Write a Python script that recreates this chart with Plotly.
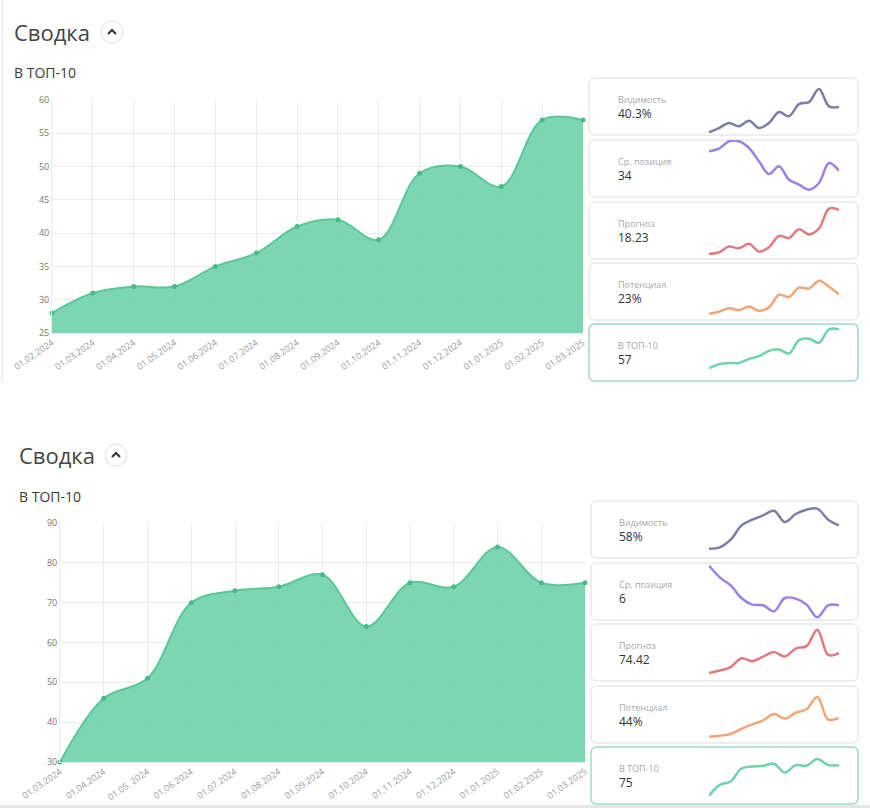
import plotly.graph_objects as go

W, H = 870, 808

# ---------------- data ----------------
top_dates = ["01.02.2024", "01.03.2024", "01.04.2024", "01.05.2024", "01.06.2024",
             "01.07.2024", "01.08.2024", "01.09.2024", "01.10.2024", "01.11.2024",
             "01.12.2024", "01.01.2025", "01.02.2025", "01.03.2025"]
top_top10 = [28, 31, 32, 32, 35, 37, 41, 42, 39, 49, 50, 47, 57, 57]
top_visibility = [23.1, 25.0, 27.3, 25.8, 28.3, 25.0, 27.3, 32.2, 30.3, 35.8, 36.7, 42.6, 34.8, 34.5]
top_position = [43.5, 44.3, 46.5, 46.5, 44.5, 40.5, 36.7, 39.0, 35.0, 33.5, 32.0, 34.0, 40.0, 37.7]
top_forecast = [9.05, 9.4, 10.59, 10.24, 11.15, 9.54, 10.45, 12.76, 12.34, 14.16, 13.04, 14.3, 18.36, 18.15]
top_potential = [12.4, 13.1, 14.3, 13.6, 14.9, 13.4, 14.6, 19.0, 18.2, 21.5, 21.2, 23.9, 21.8, 19.1]
top_y_ticks = [25, 30, 35, 40, 45, 50, 55, 60]
top_card_values = ["40.3%", "34", "18.23", "23%", "57"]

bottom_dates = ["01.03.2024", "01.04.2024", "01.05. 2024", "01.06.2024", "01.07.2024",
                "01.08.2024", "01.09.2024", "01.10.2024", "01.11.2024", "01.12.2024",
                "01.01.2025", "01.02.2025", "01.03.2025"]
bottom_top10 = [30, 46, 51, 70, 73, 74, 77, 64, 75, 74, 84, 75, 75]
bottom_visibility = [28.4, 29.6, 36.5, 49.4, 54.5, 58.4, 62.6, 52.4, 59.6, 63.5, 64.4, 54.5, 49.4]
bottom_position = [12.1, 10.35, 9.15, 7.25, 6.25, 6.15, 5.25, 7.25, 7.15, 6.25, 4.35, 6.15, 6.15]
bottom_forecast = [28.4, 34.0, 42.0, 62.0, 55.6, 66.0, 76.4, 66.0, 84.4, 90.0, 127.6, 70.0, 74.0]
bottom_potential = [19.9, 21.25, 23.5, 30.25, 36.1, 41.5, 49.6, 43.75, 51.4, 55.9, 72.1, 42.4, 44.65]
bottom_y_ticks = [30, 40, 50, 60, 70, 80, 90]
bottom_card_values = ["58%", "6", "74.42", "44%", "75"]

card_labels = ["Видимость", "Ср. позиция", "Прогноз", "Потенциал", "В ТОП-10"]
title_text = "Сводка"
subtitle_text = "В ТОП-10"

# ---------------- styles ----------------
spark_colors = ["#7b7fa6", "#9d80e6", "#e47a80", "#f0a678", "#6dd3ab"]
fill_color = "rgba(112,210,170,0.92)"
line_color = "#5cc79b"
marker_color = "#47bb8b"
grid_color = "#ebebeb"
FONT = "Open Sans"


def px(x):
    return x / W


def py(y):
    return 1 - y / H


panels = [
    dict(dates=top_dates, values=top_top10, yticks=top_y_ticks, yr=[25, 60],
         plot=(52, 100, 583, 333), title=(12, 32), sub=(12, 73), chevron=(112, 32),
         cards_x=(589, 858), card_tops=[78, 140, 202, 263, 324], card_h=57,
         spark_x=(709, 839), text_x=617,
         series=[top_visibility, top_position, top_forecast, top_potential, top_top10],
         card_values=top_card_values,
         gaps=[(11, 2.7), (1.3, 7.3), (6.7, 5), (17.7, 6.3), (5.3, 12.7)]),
    dict(dates=bottom_dates, values=bottom_top10, yticks=bottom_y_ticks, yr=[30, 90],
         plot=(60, 523, 585, 762), title=(17, 455), sub=(17, 496), chevron=(116, 455),
         cards_x=(591, 858), card_tops=[501, 563, 624, 686, 747], card_h=57,
         spark_x=(709, 839), text_x=618,
         series=[bottom_visibility, bottom_position, bottom_forecast, bottom_potential, bottom_top10],
         card_values=bottom_card_values,
         gaps=[(7.7, 9.3), (2.7, 2.7), (5.7, 8), (11, 6.3), (12, 8.3)]),
]

fig = go.Figure()
layout = dict(width=W, height=H, margin=dict(l=0, r=0, t=0, b=0, autoexpand=False),
              paper_bgcolor="white", plot_bgcolor="white", showlegend=False,
              font=dict(family=FONT))
shapes = []
annotations = []
ax_i = [0]


def new_axes():
    ax_i[0] += 1
    i = ax_i[0]
    suffix = "" if i == 1 else str(i)
    return "x" + suffix, "y" + suffix, "xaxis" + suffix, "yaxis" + suffix


def rounded_rect(x0, y0, x1, y1, r):
    def P(x, y):
        return f"{px(x):.5f},{py(y):.5f}"
    return (f"M {P(x0 + r, y0)} L {P(x1 - r, y0)} Q {P(x1, y0)} {P(x1, y0 + r)} "
            f"L {P(x1, y1 - r)} Q {P(x1, y1)} {P(x1 - r, y1)} "
            f"L {P(x0 + r, y1)} Q {P(x0, y1)} {P(x0, y1 - r)} "
            f"L {P(x0, y0 + r)} Q {P(x0, y0)} {P(x0 + r, y0)} Z")


for p in panels:
    # titles
    annotations.append(dict(text=title_text, x=px(p["title"][0]), y=py(p["title"][1]),
                            xref="paper", yref="paper", xanchor="left", yanchor="middle",
                            showarrow=False, font=dict(size=22, color="#454545", family=FONT)))
    annotations.append(dict(text=subtitle_text, x=px(p["sub"][0]), y=py(p["sub"][1]),
                            xref="paper", yref="paper", xanchor="left", yanchor="middle",
                            showarrow=False, font=dict(size=14, color="#3a3a3a", family=FONT)))
    cx, cy = p["chevron"]
    shapes.append(dict(type="circle", xref="paper", yref="paper",
                       x0=px(cx - 11), x1=px(cx + 11), y0=py(cy + 11), y1=py(cy - 11),
                       line=dict(color="#dedede", width=1), fillcolor="white"))
    shapes.append(dict(type="path", xref="paper", yref="paper",
                       path=f"M {px(cx-4):.5f},{py(cy+2):.5f} L {px(cx):.5f},{py(cy-2):.5f} L {px(cx+4):.5f},{py(cy+2):.5f}",
                       line=dict(color="#333333", width=2)))

    # main chart
    xa, ya, xk, yk = new_axes()
    x0, y0, x1, y1 = p["plot"]
    n = len(p["dates"])
    fig.add_trace(go.Scatter(x=p["dates"], y=p["values"], mode="lines",
                             line=dict(shape="spline", smoothing=1.0, color=line_color, width=2),
                             fill="tozeroy", fillcolor=fill_color, xaxis=xa, yaxis=ya,
                             hoverinfo="skip"))
    fig.add_trace(go.Scatter(x=p["dates"], y=p["values"], mode="markers",
                             marker=dict(size=5, color=marker_color), cliponaxis=False,
                             xaxis=xa, yaxis=ya))
    layout[xk] = dict(domain=[px(x0), px(x1)], anchor=ya, type="category", automargin=False,
                      range=[0, n - 1], tickmode="array", tickvals=p["dates"], ticktext=p["dates"],
                      tickangle=-35, tickfont=dict(size=9, color="#9a9a9a", family=FONT),
                      showgrid=True, gridcolor=grid_color, zeroline=False,
                      showline=True, linecolor=grid_color, ticks="", fixedrange=True)
    layout[yk] = dict(domain=[py(y1), py(y0)], anchor=xa, range=p["yr"], automargin=False,
                      tickmode="array", tickvals=p["yticks"],
                      tickfont=dict(size=9, color="#777777", family=FONT),
                      showgrid=True, gridcolor=grid_color, zeroline=False,
                      showline=True, linecolor=grid_color, ticks="", fixedrange=True)

    # cards
    cx0, cx1 = p["cards_x"]
    for k, top in enumerate(p["card_tops"]):
        bot = top + p["card_h"]
        last = k == len(p["card_tops"]) - 1
        shapes.append(dict(type="path", xref="paper", yref="paper",
                           path=rounded_rect(cx0, top, cx1, bot, 6),
                           line=dict(color="#9edcc3" if last else "#dddddd", width=1.5 if last else 1),
                           layer="below"))
        annotations.append(dict(text=card_labels[k], x=px(p["text_x"]), y=py(top + 21.5),
                                xref="paper", yref="paper", xanchor="left", yanchor="middle",
                                showarrow=False, borderpad=0,
                                font=dict(size=9, color="#a8a8a8", family=FONT)))
        annotations.append(dict(text=p["card_values"][k], x=px(p["text_x"]), y=py(top + 35.5),
                                xref="paper", yref="paper", xanchor="left", yanchor="middle",
                                showarrow=False, borderpad=0,
                                font=dict(size=12, color="#333333", family=FONT)))
        s = p["series"][k]
        gt, gb = p["gaps"][k]
        h = p["card_h"]
        vmin, vmax = min(s), max(s)
        unit = (vmax - vmin) / (h - gt - gb)
        rlo = vmin - gb * unit
        rhi = vmax + gt * unit
        xa, ya, xk, yk = new_axes()
        fig.add_trace(go.Scatter(x=list(range(len(s))), y=s, mode="lines",
                                 line=dict(shape="spline", smoothing=1.0, color=spark_colors[k], width=2.5),
                                 xaxis=xa, yaxis=ya, hoverinfo="skip"))
        sx0, sx1 = p["spark_x"]
        layout[xk] = dict(domain=[px(sx0), px(sx1)], anchor=ya, range=[0, len(s) - 1],
                          visible=False, fixedrange=True, automargin=False)
        layout[yk] = dict(domain=[py(bot), py(top)], anchor=xa, range=[rlo, rhi],
                          visible=False, fixedrange=True, automargin=False)

# page borders
shapes.append(dict(type="line", xref="paper", yref="paper", x0=px(2), x1=px(2), y0=py(0), y1=py(383),
                   line=dict(color="#e2e2e2", width=1)))
shapes.append(dict(type="line", xref="paper", yref="paper", x0=0, x1=1, y0=py(806.5), y1=py(806.5),
                   line=dict(color="#e6e6e6", width=3)))

layout["shapes"] = shapes
layout["annotations"] = annotations
fig.update_layout(**layout)
fig.write_html("out.html")
